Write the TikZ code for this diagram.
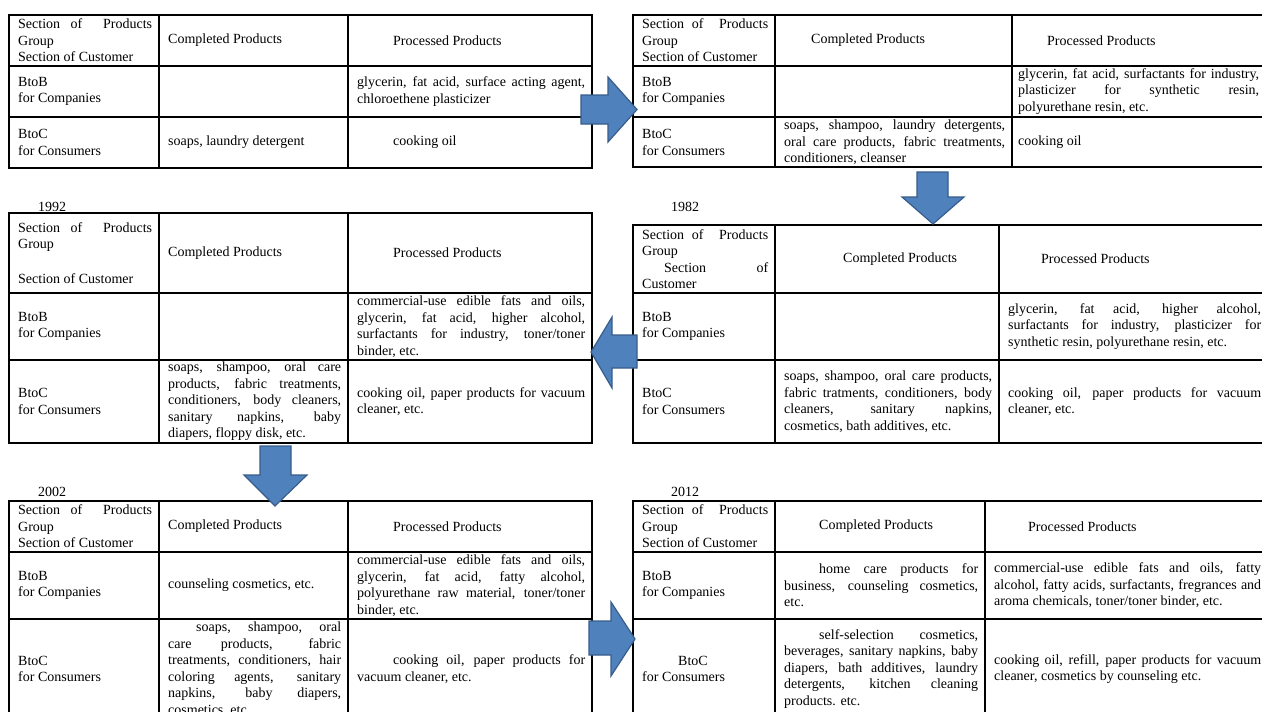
\documentclass[tikz,border=0pt]{standalone}
\usepackage{fontspec}
\setmainfont{Liberation Serif}
\usepackage{tikz}

\definecolor{arrowfill}{RGB}{79,129,189}
\definecolor{arrowline}{RGB}{56,93,138}
\newcommand{\cellfont}{\fontsize{14}{16.5}\selectfont}
\newcommand{\sectionhead}{Section of\ \ Products\linebreak Group}
\setlength{\parindent}{0pt}
\hyphenpenalty=10000
\exhyphenpenalty=10000

% table frame: x0 x1 x2 x3 y0 y1 y2 y3
\newcommand{\tabgrid}[8]{%
  \draw[gridline] (#1,#6) -- (#4,#6) (#1,#7) -- (#4,#7) (#2,#5) -- (#2,#8) (#3,#5) -- (#3,#8);
  \draw[frameline] (#1,#5) rectangle (#4,#8);}

\tikzset{
  cell/.style={anchor=west, inner sep=0pt, align=justify, font=\cellfont},
  yearlabel/.style={inner sep=0pt, font=\cellfont},
  gridline/.style={line width=1.1pt},
  frameline/.style={line width=1.6pt},
  blockarrow/.style={fill=arrowfill, draw=arrowline, line width=1.2pt, line join=miter}
}

\begin{document}
\begin{tikzpicture}[x=1pt,y=-1pt]
	\useasboundingbox (0,0) rectangle (1262,712);
	\fill[white] (0,0) rectangle (1262,712);
	\clip (0,0) rectangle (1262,712);

	% first table (top left)
	\tabgrid{9}{159}{348}{592}{15}{66}{117}{168}
	\node[cell, text width=134pt] (a-head) at (18,40.5) {\sectionhead\\Section of Customer};
	\node[cell, text width=173pt] (a-comp) at (168,40.5) {Completed Products};
	\node[cell, text width=228pt] (a-proc) at (357,40.5) {\hspace*{36pt}Processed Products};
	\node[cell, text width=134pt] (a-btob) at (18,91.5) {BtoB\\for Companies};
	\node[cell, text width=228pt] (a-btob-proc) at (357,91.5) {glycerin, fat acid, surface acting agent,\linebreak chloroethene plasticizer};
	\node[cell, text width=134pt] (a-btoc) at (18,142.5) {BtoC\\for Consumers};
	\node[cell, text width=173pt] (a-btoc-comp) at (168,142.5) {soaps, laundry detergent};
	\node[cell, text width=228pt] (a-btoc-proc) at (357,142.5) {\hspace*{36pt}cooking oil};

	% second table (top right)
	\tabgrid{633}{775}{1012}{1268}{15}{66}{117}{167}
	\node[cell, text width=126pt] (b-head) at (642,40.5) {\sectionhead\\Section of Customer};
	\node[cell, text width=221pt] (b-comp) at (784,40.5) {\hspace*{27pt}Completed Products};
	\node[cell, text width=241pt] (b-proc) at (1018,40.5) {\hspace*{29pt}Processed Products};
	\node[cell, text width=126pt] (b-btob) at (642,91.5) {BtoB\\for Companies};
	\node[cell, text width=241pt] (b-btob-proc) at (1018,91.5) {glycerin, fat acid, surfactants for industry,\linebreak plasticizer for synthetic resin,\linebreak polyurethane resin, etc.};
	\node[cell, text width=126pt] (b-btoc) at (642,142.5) {BtoC\\for Consumers};
	\node[cell, text width=221pt] (b-btoc-comp) at (784,142.5) {soaps, shampoo, laundry detergents,\linebreak oral care products, fabric treatments,\linebreak conditioners, cleanser};
	\node[cell, text width=241pt] (b-btoc-proc) at (1018,142.5) {cooking oil};

	% 1992
	\node[yearlabel] (y92) at (52,207) {1992};
	\tabgrid{9}{159}{348}{592}{213}{293}{360}{443}
	\node[cell, text width=134pt] (c-head) at (18,253) {\sectionhead\\[18pt]Section of Customer};
	\node[cell, text width=173pt] (c-comp) at (168,253) {Completed Products};
	\node[cell, text width=228pt] (c-proc) at (357,253) {\hspace*{36pt}Processed Products};
	\node[cell, text width=134pt] (c-btob) at (18,326.5) {BtoB\\for Companies};
	\node[cell, text width=228pt] (c-btob-proc) at (357,326.5) {commercial-use edible fats and oils,\linebreak glycerin, fat acid, higher alcohol,\linebreak surfactants for industry, toner/toner\linebreak binder, etc.};
	\node[cell, text width=134pt] (c-btoc) at (18,401.5) {BtoC\\for Consumers};
	\node[cell, text width=173pt] (c-btoc-comp) at (168,401.5) {soaps, shampoo, oral care\linebreak products, fabric treatments,\linebreak conditioners, body cleaners,\linebreak sanitary napkins, baby\linebreak diapers, floppy disk, etc.};
	\node[cell, text width=228pt] (c-btoc-proc) at (357,401.5) {cooking oil, paper products for vacuum\linebreak cleaner, etc.};

	% 1982
	\node[yearlabel] (y82) at (685,207) {1982};
	\tabgrid{633}{775}{999}{1268}{225}{293}{360}{443}
	\node[cell, text width=126pt] (d-head) at (642,259) {\sectionhead\\\hspace*{22pt}Section of\linebreak Customer};
	\node[cell, text width=208pt] (d-comp) at (784,259) {\hspace*{59pt}Completed Products};
	\node[cell, text width=253pt] (d-proc) at (1008,259) {\hspace*{33pt}Processed Products};
	\node[cell, text width=126pt] (d-btob) at (642,326.5) {BtoB\\for Companies};
	\node[cell, text width=253pt] (d-btob-proc) at (1008,326.5) {glycerin, fat acid, higher alcohol,\linebreak surfactants for industry, plasticizer for\linebreak synthetic resin, polyurethane resin, etc.};
	\node[cell, text width=126pt] (d-btoc) at (642,401.5) {BtoC\\for Consumers};
	\node[cell, text width=208pt] (d-btoc-comp) at (784,401.5) {soaps, shampoo, oral care products,\linebreak fabric tratments, conditioners, body\linebreak cleaners, sanitary napkins,\linebreak cosmetics, bath additives, etc.};
	\node[cell, text width=253pt] (d-btoc-proc) at (1008,401.5) {cooking oil, paper products for vacuum\linebreak cleaner, etc.};

	% 2002
	\node[yearlabel] (y02) at (52,492) {2002};
	\tabgrid{9}{159}{348}{592}{501}{552}{619}{719}
	\node[cell, text width=134pt] (e-head) at (18,526.5) {\sectionhead\\Section of Customer};
	\node[cell, text width=173pt] (e-comp) at (168,526.5) {Completed Products};
	\node[cell, text width=228pt] (e-proc) at (357,526.5) {\hspace*{36pt}Processed Products};
	\node[cell, text width=134pt] (e-btob) at (18,585.5) {BtoB\\for Companies};
	\node[cell, text width=173pt] (e-btob-comp) at (168,585.5) {counseling cosmetics, etc.};
	\node[cell, text width=228pt] (e-btob-proc) at (357,585.5) {commercial-use edible fats and oils,\linebreak glycerin, fat acid, fatty alcohol,\linebreak polyurethane raw material, toner/toner\linebreak binder, etc.};
	\node[cell, text width=134pt] (e-btoc) at (18,669) {BtoC\\for Consumers};
	\node[cell, text width=173pt] (e-btoc-comp) at (168,669) {\hspace*{28pt}soaps, shampoo, oral\linebreak care products, fabric\linebreak treatments, conditioners, hair\linebreak coloring agents, sanitary\linebreak napkins, baby diapers,\linebreak cosmetics, etc.};
	\node[cell, text width=228pt] (e-btoc-proc) at (357,669) {\hspace*{36pt}cooking oil, paper products for\linebreak vacuum cleaner, etc.};

	% 2012
	\node[yearlabel] (y12) at (685,492) {2012};
	\tabgrid{633}{775}{985}{1268}{501}{552}{619}{719}
	\node[cell, text width=126pt] (f-head) at (642,526.5) {\sectionhead\\Section of Customer};
	\node[cell, text width=194pt] (f-comp) at (784,526.5) {\hspace*{35pt}Completed Products};
	\node[cell, text width=267pt] (f-proc) at (994,526.5) {\hspace*{34pt}Processed Products};
	\node[cell, text width=126pt] (f-btob) at (642,585.5) {BtoB\\for Companies};
	\node[cell, text width=194pt] (f-btob-comp) at (784,585.5) {\hspace*{35pt}home care products for\linebreak business, counseling cosmetics,\linebreak etc.};
	\node[cell, text width=267pt] (f-btob-proc) at (994,585.5) {commercial-use edible fats and oils, fatty\linebreak alcohol, fatty acids, surfactants, fregrances and\linebreak aroma chemicals, toner/toner binder, etc.};
	\node[cell, text width=126pt] (f-btoc) at (642,669) {\hspace*{36pt}BtoC\\for Consumers};
	\node[cell, text width=194pt] (f-btoc-comp) at (784,669) {\hspace*{35pt}self-selection cosmetics,\linebreak beverages, sanitary napkins, baby\linebreak diapers, bath additives, laundry\linebreak detergents, kitchen cleaning\linebreak products. etc.};
	\node[cell, text width=267pt] (f-btoc-proc) at (994,669) {cooking oil, refill, paper products for vacuum\linebreak cleaner, cosmetics by counseling etc.};

	% block arrows between the tables
	\draw[blockarrow] (581,95) -- (608,95) -- (608,77) -- (637,109.5) -- (608,142) -- (608,124) -- (581,124) -- cycle;
	\draw[blockarrow] (917,172) -- (948,172) -- (948,197) -- (964,197) -- (933,224) -- (902,197) -- (917,197) -- cycle;
	\draw[blockarrow] (637,335) -- (612,335) -- (612,317) -- (591,352) -- (612,388) -- (612,368) -- (637,368) -- cycle;
	\draw[blockarrow] (260,446) -- (291,446) -- (291,475) -- (307,475) -- (275,506) -- (244,475) -- (260,475) -- cycle;
	\draw[blockarrow] (589,621) -- (611,621) -- (611,602) -- (635,639) -- (611,676) -- (611,655) -- (589,655) -- cycle;
\end{tikzpicture}
\end{document}
